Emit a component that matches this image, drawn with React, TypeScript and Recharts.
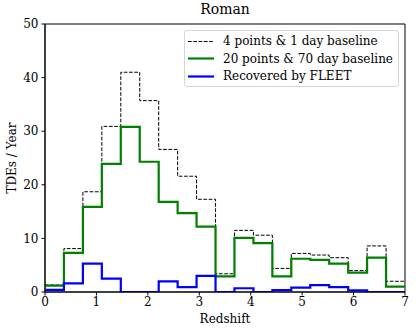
import React from 'react';
import { ComposedChart, Line, XAxis, YAxis, ReferenceArea, Label } from 'recharts';

const binEdges = [0, 0.368, 0.737, 1.105, 1.474, 1.842, 2.211, 2.579, 2.947, 3.316, 3.684, 4.053, 4.421, 4.789, 5.158, 5.526, 5.895, 6.263, 6.632, 7];
const fourPoints = [1.3, 8.1, 18.7, 30.9, 41.0, 35.7, 26.6, 21.6, 17.3, 3.4, 11.5, 10.6, 4.4, 7.2, 6.9, 6.4, 4.0, 8.6, 2.0];
const twentyPoints = [1.2, 7.3, 15.9, 23.9, 30.8, 24.3, 16.8, 14.7, 12.2, 2.9, 10.1, 9.1, 2.9, 6.2, 6.0, 5.3, 3.6, 6.4, 1.0];
const recovered = [0.4, 1.6, 5.3, 2.5, 0, 0, 2.0, 0.9, 3.0, 0, 0.7, 0, 0.35, 0.8, 1.3, 0.9, 0.3, 0, 0];
const xTicks = [0, 1, 2, 3, 4, 5, 6, 7];
const yTicks = [0, 10, 20, 30, 40, 50];

const data = binEdges.map((z, i) => {
  const j = Math.min(i, fourPoints.length - 1);
  return { z, a: fourPoints[j], b: twentyPoints[j], c: recovered[j] };
});

const FONT = 'DejaVu Serif';
const tickStyle = { fontFamily: FONT, fontSize: 12, fill: '#000' };

const legendItems = [
  { label: '4 points & 1 day baseline', color: '#000', width: 1, dash: '3.7 1.6' },
  { label: '20 points & 70 day baseline', color: 'green', width: 2.2, dash: undefined },
  { label: 'Recovered by FLEET', color: '#0000ff', width: 2.2, dash: undefined },
];

export default function App() {
  return (
    <div style={{ position: 'absolute', left: 0, top: 0, width: 416, height: 333, background: '#fff' }}>
      <div style={{ position: 'absolute', left: 45, width: 360, top: 1, textAlign: 'center', fontFamily: FONT, fontSize: 14, color: '#000' }}>Roman</div>
      <ComposedChart width={416} height={333} data={data} margin={{ top: 24, right: 11, bottom: 0, left: 0 }}>
        <XAxis
          dataKey="z"
          type="number"
          domain={[0, 7]}
          ticks={xTicks}
          allowDataOverflow
          tick={tickStyle}
          tickSize={3.5}
          tickMargin={2}
          stroke="#000"
          height={41}
        >
          <Label
            content={() => (
              <text x={225} y={323} textAnchor="middle" fontFamily={FONT} fontSize={12} fill="#000">
                Redshift
              </text>
            )}
          />
        </XAxis>
        <YAxis
          type="number"
          domain={[0, 50]}
          ticks={yTicks}
          allowDataOverflow
          tick={tickStyle}
          tickSize={3.5}
          tickMargin={3}
          stroke="#000"
          width={45}
        >
          <Label
            content={() => (
              <text x={12} y={158} transform="rotate(-90 12 158)" textAnchor="middle" dominantBaseline="middle" fontFamily={FONT} fontSize={12} fill="#000">
                TDEs / Year
              </text>
            )}
          />
        </YAxis>
        <ReferenceArea x1={0} x2={7} y1={0} y2={50} fill="none" stroke="#000" strokeWidth={1} fillOpacity={0} />
        <Line dataKey="a" type="stepAfter" stroke="#000" strokeWidth={1} strokeDasharray="3.7 1.6" dot={false} isAnimationActive={false} />
        <Line dataKey="b" type="stepAfter" stroke="green" strokeWidth={2.2} dot={false} isAnimationActive={false} />
        <Line dataKey="c" type="stepAfter" stroke="#0000ff" strokeWidth={2.2} dot={false} isAnimationActive={false} />
      </ComposedChart>
      <div style={{ position: 'absolute', left: 184, top: 30, width: 215, height: 57, border: '1px solid #d6d6d6', borderRadius: 3, background: 'rgba(255,255,255,0.8)', boxSizing: 'border-box' }}>
        {legendItems.map((it, i) => (
          <div key={i} style={{ position: 'absolute', left: 0, top: 1.5 + i * 17.5, height: 17, display: 'flex', alignItems: 'center', whiteSpace: 'nowrap' }}>
            <svg width={38} height={17}>
              <line x1={3} x2={29} y1={8.5} y2={8.5} stroke={it.color} strokeWidth={it.width} strokeDasharray={it.dash} />
            </svg>
            <span style={{ fontFamily: FONT, fontSize: 12, color: '#000' }}>{it.label}</span>
          </div>
        ))}
      </div>
    </div>
  );
}
